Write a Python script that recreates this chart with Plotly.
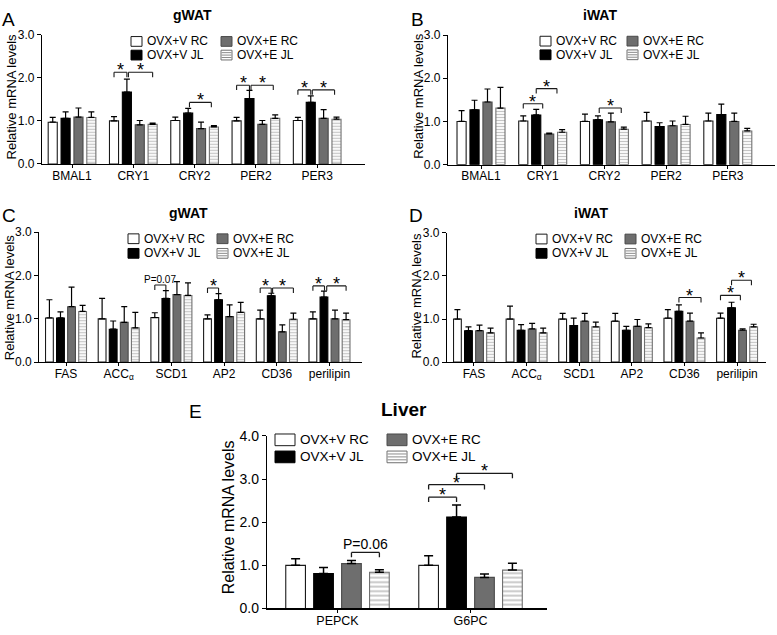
import plotly.graph_objects as go

W, H = 777, 635
FONT = "Liberation Sans, Arial, sans-serif"

# ---------------- data ----------------
groups = ["OVX+V RC", "OVX+V JL", "OVX+E RC", "OVX+E JL"]
clock_genes = ["BMAL1", "CRY1", "CRY2", "PER2", "PER3"]
lipid_genes = ["FAS", "ACC<sub>α</sub>", "SCD1", "AP2", "CD36", "perilipin"]
liver_genes = ["PEPCK", "G6PC"]

# Panel A - gWAT clock genes (mean, SEM)
gwat_clock_rc = [0.97, 1.00, 1.01, 1.00, 1.01]
gwat_clock_rc_sem = [0.11, 0.10, 0.08, 0.08, 0.07]
gwat_clock_jl = [1.06, 1.67, 1.18, 1.52, 1.43]
gwat_clock_jl_sem = [0.15, 0.30, 0.11, 0.19, 0.15]
gwat_clock_erc = [1.09, 0.91, 0.82, 0.92, 1.06]
gwat_clock_erc_sem = [0.21, 0.10, 0.15, 0.09, 0.20]
gwat_clock_ejl = [1.08, 0.92, 0.86, 1.06, 1.04]
gwat_clock_ejl_sem = [0.13, 0.03, 0.03, 0.08, 0.05]

# Panel B - iWAT clock genes
iwat_clock_rc = [1.00, 1.01, 1.00, 1.01, 1.01]
iwat_clock_rc_sem = [0.25, 0.12, 0.17, 0.20, 0.18]
iwat_clock_jl = [1.27, 1.15, 1.04, 0.88, 1.16]
iwat_clock_jl_sem = [0.22, 0.13, 0.09, 0.09, 0.24]
iwat_clock_erc = [1.45, 0.71, 0.99, 0.90, 1.00]
iwat_clock_erc_sem = [0.30, 0.02, 0.20, 0.11, 0.19]
iwat_clock_ejl = [1.31, 0.75, 0.82, 0.93, 0.78]
iwat_clock_ejl_sem = [0.48, 0.06, 0.05, 0.19, 0.06]

# Panel C - gWAT lipid genes
gwat_lipid_rc = [1.02, 1.00, 1.03, 1.00, 1.00, 1.00]
gwat_lipid_rc_sem = [0.42, 0.47, 0.11, 0.09, 0.20, 0.16]
gwat_lipid_jl = [1.02, 0.76, 1.47, 1.44, 1.53, 1.50]
gwat_lipid_jl_sem = [0.14, 0.19, 0.18, 0.14, 0.06, 0.14]
gwat_lipid_erc = [1.28, 0.92, 1.56, 1.05, 0.70, 1.00]
gwat_lipid_erc_sem = [0.45, 0.36, 0.30, 0.27, 0.16, 0.20]
gwat_lipid_ejl = [1.17, 0.79, 1.54, 1.15, 0.99, 0.98]
gwat_lipid_ejl_sem = [0.14, 0.36, 0.29, 0.23, 0.14, 0.15]

# Panel D - iWAT lipid genes
iwat_lipid_rc = [1.00, 1.00, 1.00, 0.95, 1.02, 1.02]
iwat_lipid_rc_sem = [0.22, 0.30, 0.13, 0.18, 0.20, 0.12]
iwat_lipid_jl = [0.73, 0.74, 0.85, 0.74, 1.18, 1.26]
iwat_lipid_jl_sem = [0.09, 0.13, 0.17, 0.09, 0.15, 0.13]
iwat_lipid_erc = [0.73, 0.77, 0.95, 0.83, 0.95, 0.74]
iwat_lipid_erc_sem = [0.13, 0.13, 0.18, 0.16, 0.19, 0.03]
iwat_lipid_ejl = [0.68, 0.68, 0.82, 0.80, 0.56, 0.82]
iwat_lipid_ejl_sem = [0.11, 0.11, 0.11, 0.09, 0.12, 0.06]

# Panel E - liver
liver_rc = [1.00, 1.00]
liver_rc_sem = [0.15, 0.22]
liver_jl = [0.81, 2.12]
liver_jl_sem = [0.14, 0.28]
liver_erc = [1.04, 0.72]
liver_erc_sem = [0.07, 0.08]
liver_ejl = [0.84, 0.89]
liver_ejl_sem = [0.06, 0.16]

# significance brackets: (gene index, from bar, to bar, height, label)
sig_a = [(1, 0, 1, 2.13, "*"), (1, 1.12, 3, 2.13, "*"), (2, 1.1, 2.8, 1.43, "*"),
         (3, 0, 1, 1.83, "*"), (3, 1.12, 2.85, 1.83, "*"),
         (4, 0, 1, 1.72, "*"), (4, 1.12, 2.85, 1.72, "*")]
sig_b = [(1, 0, 1.5, 1.41, "*"), (1, 1, 2.6, 1.76, "*"), (2, 1.1, 2.8, 1.31, "*")]
sig_c = [(2, 0, 1, 1.78, "P=0.07"), (3, 0, 1, 1.71, "*"), (4, 0, 1, 1.71, "*"),
         (4, 1.12, 3, 1.71, "*"), (5, 0, 1.05, 1.76, "*"), (5, 1.25, 3, 1.76, "*")]
sig_d = [(4, 1, 3, 1.50, "*"), (5, 0, 1.8, 1.55, "*"), (5, 1, 2.8, 1.90, "*")]
sig_e = [(0, 2, 3, 1.30, "P=0.06"), (1, 0, 1, 2.58, "*"), (1, 0, 2, 2.87, "*"),
         (1, 1, 3, 3.13, "*")]

# ---------------- styling / layout ----------------
SLOT = 0.21
BW = 0.148

styles = [
    dict(color="white", line="#1a1a1a", pattern=None),
    dict(color="black", line="black", pattern=None),
    dict(color="#6e6e6e", line="#4a4a4a", pattern=None),
    dict(color="white", line="#707070",
         pattern=dict(shape="-", fgcolor="#8c8c8c", bgcolor="white", size=3, solidity=0.42)),
]


def px_x(p):
    return p / W


def px_y(p):
    return 1 - p / H


panels = [
    dict(letter="A", title="gWAT", genes=clock_genes,
         series=[(gwat_clock_rc, gwat_clock_rc_sem), (gwat_clock_jl, gwat_clock_jl_sem),
                 (gwat_clock_erc, gwat_clock_erc_sem), (gwat_clock_ejl, gwat_clock_ejl_sem)],
         sig=sig_a, xd=(42, 365), xr=(-0.49, 4.78), yd=(27.5, 160), ymax=3,
         letter_pos=(8.5, 11.5), title_pos=(192, 7), ytitle_pos=(11.7, 91),
         leg_cols=(131, 221), leg_rows=(34.3, 48.3), sw=(11, 10), leg_font=12,
         tick_font=12, ytick_font=12, ytitle_font=13, title_font=14, cap=3, small=10),
    dict(letter="B", title="iWAT", genes=clock_genes,
         series=[(iwat_clock_rc, iwat_clock_rc_sem), (iwat_clock_jl, iwat_clock_jl_sem),
                 (iwat_clock_erc, iwat_clock_erc_sem), (iwat_clock_ejl, iwat_clock_ejl_sem)],
         sig=sig_b, xd=(448, 775), xr=(-0.535, 4.765), yd=(27.7, 160.7), ymax=3,
         letter_pos=(417, 11.5), title_pos=(600, 7), ytitle_pos=(419, 91),
         leg_cols=(540, 627), leg_rows=(34, 48), sw=(11, 10), leg_font=12,
         tick_font=12, ytick_font=12, ytitle_font=13, title_font=14, cap=3, small=10),
    dict(letter="C", title="gWAT", genes=lipid_genes,
         series=[(gwat_lipid_rc, gwat_lipid_rc_sem), (gwat_lipid_jl, gwat_lipid_jl_sem),
                 (gwat_lipid_erc, gwat_lipid_erc_sem), (gwat_lipid_ejl, gwat_lipid_ejl_sem)],
         sig=sig_c, xd=(39.3, 362), xr=(-0.507, 5.617), yd=(230, 363.3), ymax=3,
         letter_pos=(8.5, 213), title_pos=(188, 210), ytitle_pos=(9.7, 297),
         leg_cols=(128, 217), leg_rows=(236.7, 251.7), sw=(11, 10), leg_font=12,
         tick_font=12, ytick_font=12, ytitle_font=13, title_font=14, cap=3, small=10),
    dict(letter="D", title="iWAT", genes=lipid_genes,
         series=[(iwat_lipid_rc, iwat_lipid_rc_sem), (iwat_lipid_jl, iwat_lipid_jl_sem),
                 (iwat_lipid_erc, iwat_lipid_erc_sem), (iwat_lipid_ejl, iwat_lipid_ejl_sem)],
         sig=sig_d, xd=(447, 766), xr=(-0.513, 5.55), yd=(230.7, 363.3), ymax=3,
         letter_pos=(415.5, 213), title_pos=(591, 210), ytitle_pos=(417, 296),
         leg_cols=(536, 625), leg_rows=(237, 251.7), sw=(11, 10), leg_font=12,
         tick_font=12, ytick_font=12, ytitle_font=13, title_font=14, cap=3, small=10),
    dict(letter="E", title="Liver", genes=liver_genes,
         series=[(liver_rc, liver_rc_sem), (liver_jl, liver_jl_sem),
                 (liver_erc, liver_erc_sem), (liver_ejl, liver_ejl_sem)],
         sig=sig_e, xd=(267, 547), xr=(-0.53, 1.575), yd=(439, 616), ymax=4,
         letter_pos=(196, 414), title_pos=(404, 411.5), ytitle_pos=(228.5, 523),
         leg_cols=(275, 387), leg_rows=(443, 460.5), sw=(20, 12), leg_font=13.5,
         tick_font=12.5, ytick_font=14, ytitle_font=16, title_font=19, cap=4.5, small=14),
]

fig = go.Figure()
shapes = []
annotations = []
layout = {}

for pi, p in enumerate(panels):
    sfx = "" if pi == 0 else str(pi + 1)
    xa, ya = "x" + sfx, "y" + sfx
    ymax = p["ymax"]
    px_per_unit = (p["yd"][1] - p["yd"][0]) / ymax
    big = p["letter"] == "E"

    for k, (vals, sems) in enumerate(p["series"]):
        st = styles[k]
        marker = dict(color=st["color"], line=dict(color=st["line"], width=1.1))
        if st["pattern"] is not None:
            pat = dict(st["pattern"])
            if big:
                pat["size"] = 4.5
            marker["pattern"] = pat
        fig.add_trace(go.Bar(
            x=p["genes"], y=vals, name=groups[k], showlegend=False,
            width=BW, offset=(k - 1.5) * SLOT - BW / 2,
            marker=marker, hoverinfo="skip",
            error_y=dict(type="data", array=sems, arrayminus=[0] * len(sems),
                         symmetric=False, color="black",
                         thickness=1.5 if big else 1.2, width=p["cap"]),
            xaxis=xa, yaxis=ya,
        ))

    layout["xaxis" + sfx] = dict(
        domain=[px_x(p["xd"][0]), px_x(p["xd"][1])], anchor=ya, type="category",
        range=list(p["xr"]), showline=True, linecolor="black", linewidth=1.2,
        ticks="outside", ticklen=3, tickcolor="black", tickwidth=1,
        ticklabelstandoff=-3,
        showgrid=False, zeroline=False, fixedrange=True,
        tickfont=dict(family=FONT, size=p["tick_font"], color="black"),
    )
    layout["yaxis" + sfx] = dict(
        domain=[px_y(p["yd"][1]), px_y(p["yd"][0])], anchor=xa,
        range=[0, ymax], tickvals=list(range(ymax + 1)),
        ticktext=[f"{v:.1f}" for v in range(ymax + 1)],
        showline=True, linecolor="black", linewidth=1.2,
        ticks="outside", ticklen=4, tickcolor="black", tickwidth=1,
        showgrid=False, zeroline=False, fixedrange=True,
        tickfont=dict(family=FONT, size=p["ytick_font"], color="black"),
    )

    # significance brackets
    tick = 5 / px_per_unit
    for (gi, b0, b1, yb, lab) in p["sig"]:
        x0 = gi + (b0 - 1.5) * SLOT
        x1 = gi + (b1 - 1.5) * SLOT
        for (sx0, sy0, sx1, sy1) in [(x0, yb - tick, x0, yb), (x0, yb, x1, yb), (x1, yb, x1, yb - tick)]:
            shapes.append(dict(type="line", xref=xa, yref=ya, x0=sx0, y0=sy0, x1=sx1, y1=sy1,
                               line=dict(color="#1a1a1a", width=1.3 if big else 1.1)))
        if lab == "*":
            annotations.append(dict(xref=xa, yref=ya, x=(x0 + x1) / 2, y=yb, text="*",
                                    showarrow=False, xanchor="center", yanchor="bottom",
                                    yshift=-10, font=dict(family=FONT, size=18, color="black")))
        else:
            annotations.append(dict(xref=xa, yref=ya, x=(x0 + x1) / 2, y=yb, text=lab,
                                    showarrow=False, xanchor="center", yanchor="bottom",
                                    yshift=-2, font=dict(family=FONT, size=p["small"], color="black")))

    # panel letter, title, y-axis title
    annotations.append(dict(xref="paper", yref="paper", x=px_x(p["letter_pos"][0]),
                            y=px_y(p["letter_pos"][1]), text=p["letter"], showarrow=False,
                            xanchor="center", yanchor="middle",
                            font=dict(family=FONT, size=19, color="black")))
    annotations.append(dict(xref="paper", yref="paper", x=px_x(p["title_pos"][0]),
                            y=px_y(p["title_pos"][1]), text="<b>" + p["title"] + "</b>",
                            showarrow=False, xanchor="center", yanchor="middle",
                            font=dict(family=FONT, size=p["title_font"], color="black")))
    annotations.append(dict(xref="paper", yref="paper", x=px_x(p["ytitle_pos"][0]),
                            y=px_y(p["ytitle_pos"][1]), text="Relative mRNA levels",
                            textangle=-90, showarrow=False, xanchor="center", yanchor="middle",
                            font=dict(family=FONT, size=p["ytitle_font"], color="black")))

    # legend (two columns, two rows)
    sw_w, sw_h = p["sw"]
    for k, name in enumerate(groups):
        st = styles[k]
        cx = p["leg_cols"][k // 2]
        cy = p["leg_rows"][k % 2]
        top, bot = cy - sw_h / 2, cy + sw_h / 2
        shapes.append(dict(type="rect", xref="paper", yref="paper",
                           x0=px_x(cx), x1=px_x(cx + sw_w), y0=px_y(bot), y1=px_y(top),
                           fillcolor=st["color"], line=dict(color=st["line"], width=1)))
        if st["pattern"] is not None:
            n = 3
            for i in range(1, n + 1):
                yy = top + i * sw_h / (n + 1)
                shapes.append(dict(type="line", xref="paper", yref="paper",
                                   x0=px_x(cx + 0.5), x1=px_x(cx + sw_w - 0.5),
                                   y0=px_y(yy), y1=px_y(yy),
                                   line=dict(color="#8c8c8c", width=1)))
        annotations.append(dict(xref="paper", yref="paper", x=px_x(cx + sw_w + 3),
                                y=px_y(cy), text=name, showarrow=False,
                                xanchor="left", yanchor="middle",
                                font=dict(family=FONT, size=p["leg_font"], color="black")))

fig.update_layout(
    width=W, height=H, margin=dict(l=0, r=0, t=0, b=0),
    paper_bgcolor="white", plot_bgcolor="white",
    barmode="overlay", showlegend=False, hovermode=False,
    font=dict(family=FONT, color="black"),
    shapes=shapes, annotations=annotations, **layout,
)

fig.write_html(
    "out.html",
    config={"displayModeBar": False, "staticPlot": True},
    post_script="document.body.style.margin='0';document.body.style.overflow='hidden';",
)
